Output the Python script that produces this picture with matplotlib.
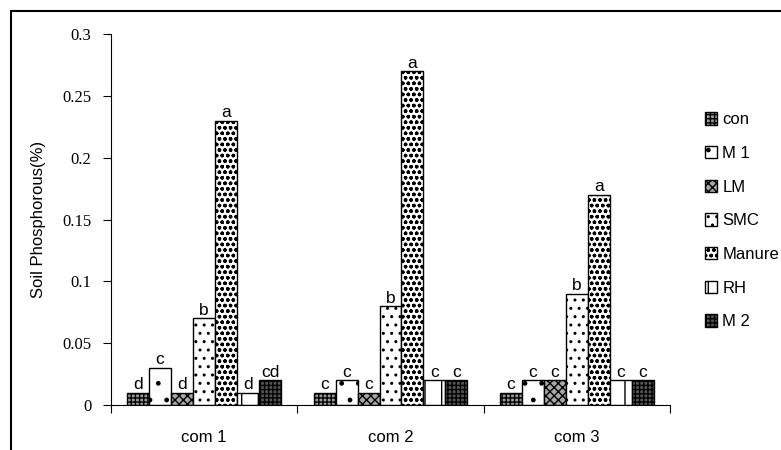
import matplotlib.pyplot as plt
from matplotlib.patches import Rectangle
import numpy as np

plt.rcParams['font.family'] = ['Liberation Sans', 'DejaVu Sans']
plt.rcParams['hatch.linewidth'] = 1.0

groups = ['com 1', 'com 2', 'com 3']
treatments = ['con', 'M 1', 'LM', 'SMC', 'Manure', 'RH', 'M 2']

phosphorus = {
    'con':    [0.01, 0.01, 0.01],
    'M 1':    [0.03, 0.02, 0.02],
    'LM':     [0.01, 0.01, 0.02],
    'SMC':    [0.07, 0.08, 0.09],
    'Manure': [0.23, 0.27, 0.17],
    'RH':     [0.01, 0.02, 0.02],
    'M 2':    [0.02, 0.02, 0.02],
}

letters = {
    'con':    ['d', 'c', 'c'],
    'M 1':    ['c', 'c', 'c'],
    'LM':     ['d', 'c', 'c'],
    'SMC':    ['b', 'b', 'b'],
    'Manure': ['a', 'a', 'a'],
    'RH':     ['d', 'c', 'c'],
    'M 2':    ['cd', 'c', 'c'],
}

# fill / hatch for each treatment (black & white print style)
styles = {
    'con':    dict(facecolor='#9a9a9a', hatch='++++'),
    'M 1':    dict(facecolor='white', hatch='.'),
    'LM':     dict(facecolor='#a8a8a8', hatch='xxxx'),
    'SMC':    dict(facecolor='white', hatch='..'),
    'Manure': dict(facecolor='white', hatch='ooo'),
    'RH':     dict(facecolor='white', hatch='|'),
    'M 2':    dict(facecolor='#555555', hatch='++++'),
}

fig = plt.figure(figsize=(7.81, 4.5), dpi=100)
ax = fig.add_axes([0.142, 0.1, 0.716, 0.824])

x = np.arange(len(groups))
width = 0.118
for i, t in enumerate(treatments):
    pos = x + (i - 3) * width
    ax.bar(pos, phosphorus[t], width, edgecolor='black', linewidth=1.0,
           label=t, **styles[t])
    for px, v, lab in zip(pos, phosphorus[t], letters[t]):
        ax.text(px, v + 0.0005, lab, ha='center', va='bottom', fontsize=12.5)

ax.set_xlim(-0.5, 2.5)
ax.set_ylim(0, 0.3)
ax.set_yticks(np.arange(0, 0.31, 0.05))
ax.set_yticklabels(['0', '0.05', '0.1', '0.15', '0.2', '0.25', '0.3'],
                   family='Liberation Serif', fontsize=12)
ax.set_xticks([-0.5, 0.5, 1.5, 2.5], minor=False)
ax.set_xticklabels([])
ax.set_xticks(x, minor=True)
ax.set_xticklabels(groups, minor=True, fontsize=12)
ax.tick_params(axis='x', which='minor', length=0, pad=18)
ax.tick_params(axis='x', which='major', length=6, direction='out')
ax.tick_params(axis='y', length=6, direction='out', pad=8)
ax.spines['top'].set_visible(False)
ax.spines['right'].set_visible(False)
ax.set_ylabel('Soil Phosphorous(%)', fontsize=12, labelpad=12)

ax.legend(loc='upper left', bbox_to_anchor=(1.035, 0.83), frameon=False,
          fontsize=12, handlelength=0.75, handleheight=0.75, handletextpad=0.3,
          labelspacing=1.12)

# page frame around the chart
fig.patches.append(Rectangle((11 / 781, -0.1), 1.2, 1.1 - 11 / 450,
                             transform=fig.transFigure, fill=False,
                             edgecolor='black', linewidth=1.5))

fig.savefig('out.png', dpi=100)
